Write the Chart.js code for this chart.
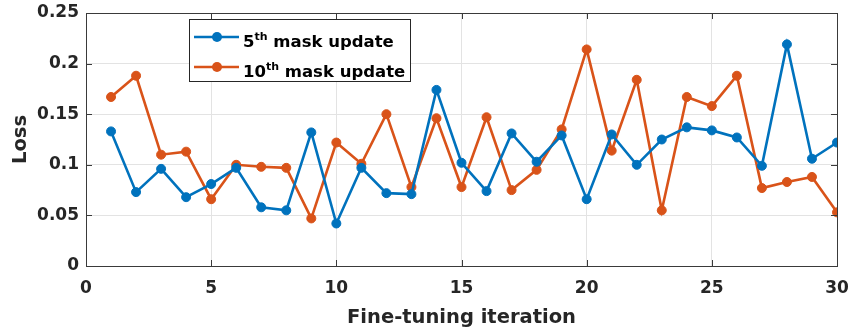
<!DOCTYPE html>
<html>
<head>
<meta charset="utf-8">
<script src="https://cdn.jsdelivr.net/npm/chart.js@4.4.1/dist/chart.umd.min.js"></script>
<style>
    html, body { margin: 0; padding: 0; background: #fff; }
    #wrap { width: 849px; height: 331px; position: relative; }
</style>
</head>
<body>
<div id="wrap"><canvas id="lossChart"></canvas></div>
<script>
// Fine-tuning iterations (x) and loss values
const iterations = [1, 2, 3, 4, 5, 6, 7, 8, 9, 10, 11, 12, 13, 14, 15, 16, 17, 18, 19, 20, 21, 22, 23, 24, 25, 26, 27, 28, 29, 30];
const loss5th = [0.133, 0.073, 0.096, 0.068, 0.081, 0.097, 0.058, 0.055, 0.132, 0.042,
                 0.097, 0.072, 0.071, 0.174, 0.102, 0.074, 0.131, 0.103, 0.129, 0.066,
                 0.130, 0.100, 0.125, 0.137, 0.134, 0.127, 0.099, 0.219, 0.106, 0.122];
const loss10th = [0.167, 0.188, 0.110, 0.113, 0.066, 0.100, 0.098, 0.097, 0.047, 0.122,
                  0.101, 0.150, 0.078, 0.146, 0.078, 0.147, 0.075, 0.095, 0.135, 0.214,
                  0.114, 0.184, 0.055, 0.167, 0.158, 0.188, 0.077, 0.083, 0.088, 0.053];

// Axis ticks
const xTicks = [0, 5, 10, 15, 20, 25, 30];
const yTicks = [0, 0.05, 0.1, 0.15, 0.2, 0.25];
const yTickLabels = ['0', '0.05', '0.1', '0.15', '0.2', '0.25'];

// Legend text: [number, superscript, rest]
const legendNames = [['5', 'th', ' mask update'], ['10', 'th', ' mask update']];
const seriesColors = ['#0072BD', '#D95319'];

const FONT = '"DejaVu Sans", "Liberation Sans", Arial, sans-serif';

// Box around the axes, inward ticks and the legend (with superscripts)
const boxPlugin = {
    id: 'boxPlugin',
    afterDraw(chart) {
        const ctx = chart.ctx;
        const { left, right, top, bottom } = chart.chartArea;
        const xs = chart.scales.x;
        const ys = chart.scales.y;
        ctx.save();
        ctx.strokeStyle = '#3a3a3a';
        ctx.lineWidth = 1;
        ctx.strokeRect(Math.round(left) + 0.5, Math.round(top) + 0.5, Math.round(right - left), Math.round(bottom - top));

        // inward tick marks
        ctx.beginPath();
        xTicks.forEach(v => {
            const px = Math.round(xs.getPixelForValue(v)) + 0.5;
            ctx.moveTo(px, bottom); ctx.lineTo(px, bottom - 6);
            ctx.moveTo(px, top); ctx.lineTo(px, top + 6);
        });
        yTicks.forEach(v => {
            const py = Math.round(ys.getPixelForValue(v)) + 0.5;
            ctx.moveTo(left, py); ctx.lineTo(left + 6, py);
            ctx.moveTo(right, py); ctx.lineTo(right - 6, py);
        });
        ctx.stroke();

        // legend box
        const bx = 189.5, by = 19.5, bw = 221, bh = 62;
        ctx.fillStyle = '#fff';
        ctx.fillRect(bx, by, bw, bh);
        ctx.strokeStyle = '#262626';
        ctx.strokeRect(bx, by, bw, bh);

        const rowsY = [37, 67];
        legendNames.forEach((parts, i) => {
            const y = rowsY[i];
            ctx.strokeStyle = seriesColors[i];
            ctx.lineWidth = 2.6;
            ctx.beginPath();
            ctx.moveTo(194, y); ctx.lineTo(239, y);
            ctx.stroke();
            ctx.fillStyle = seriesColors[i];
            ctx.beginPath();
            ctx.arc(217, y, 5, 0, Math.PI * 2);
            ctx.fill();

            ctx.fillStyle = '#000';
            ctx.textBaseline = 'alphabetic';
            let tx = 243;
            ctx.font = 'bold 16.5px ' + FONT;
            ctx.fillText(parts[0], tx, y + 9.5);
            tx += ctx.measureText(parts[0]).width;
            ctx.font = 'bold 11px ' + FONT;
            ctx.fillText(parts[1], tx, y + 2.5);
            tx += ctx.measureText(parts[1]).width;
            ctx.font = 'bold 16.5px ' + FONT;
            ctx.fillText(parts[2], tx, y + 9.5);
        });
        ctx.restore();
    }
};

const ctx = document.getElementById('lossChart').getContext('2d');
new Chart(ctx, {
    type: 'line',
    data: {
        labels: iterations,
        datasets: [
            {
                label: '5th mask update',
                data: iterations.map((x, i) => ({ x: x, y: loss5th[i] })),
                borderColor: seriesColors[0],
                backgroundColor: seriesColors[0],
                borderWidth: 2.6,
                pointRadius: 4.5,
                pointBorderWidth: 1,
                tension: 0,
                fill: false
            },
            {
                label: '10th mask update',
                data: iterations.map((x, i) => ({ x: x, y: loss10th[i] })),
                borderColor: seriesColors[1],
                backgroundColor: seriesColors[1],
                borderWidth: 2.6,
                pointRadius: 4.5,
                pointBorderWidth: 1,
                tension: 0,
                fill: false
            }
        ]
    },
    options: {
        responsive: true,
        maintainAspectRatio: false,
        animation: false,
        layout: { padding: { left: 0, right: 12, top: 13, bottom: 0 } },
        scales: {
            x: {
                type: 'linear',
                min: 0,
                max: 30,
                afterBuildTicks: scale => { scale.ticks = xTicks.map(v => ({ value: v })); },
                afterFit: scale => {
                    scale.height = 65;
                    scale.paddingLeft = 0;
                    scale.paddingRight = 0;
                },
                ticks: {
                    color: '#262626',
                    padding: 12,
                    maxRotation: 0,
                    font: { family: FONT, size: 17, weight: 'bold' },
                    callback: v => String(v)
                },
                grid: { color: '#e3e3e3', drawTicks: false },
                border: { display: false },
                title: {
                    display: true,
                    text: 'Fine-tuning iteration',
                    color: '#262626',
                    padding: { top: 0, bottom: 1 },
                    font: { family: FONT, size: 19.5, weight: 'bold' }
                }
            },
            y: {
                type: 'linear',
                min: 0,
                max: 0.25,
                afterBuildTicks: scale => { scale.ticks = yTicks.map(v => ({ value: v })); },
                afterFit: scale => {
                    scale.width = 86;
                    scale.paddingTop = 0;
                    scale.paddingBottom = 0;
                },
                ticks: {
                    color: '#262626',
                    padding: 7,
                    font: { family: FONT, size: 17, weight: 'bold' },
                    callback: v => yTickLabels[yTicks.indexOf(v)] ?? ''
                },
                grid: { color: '#e3e3e3', drawTicks: false },
                border: { display: false },
                title: {
                    display: true,
                    text: 'Loss',
                    color: '#262626',
                    padding: { top: 9, bottom: 0 },
                    font: { family: FONT, size: 19.5, weight: 'bold' }
                }
            }
        },
        plugins: {
            legend: { display: false },
            tooltip: { enabled: false }
        }
    },
    plugins: [boxPlugin]
});
</script>
</body>
</html>
